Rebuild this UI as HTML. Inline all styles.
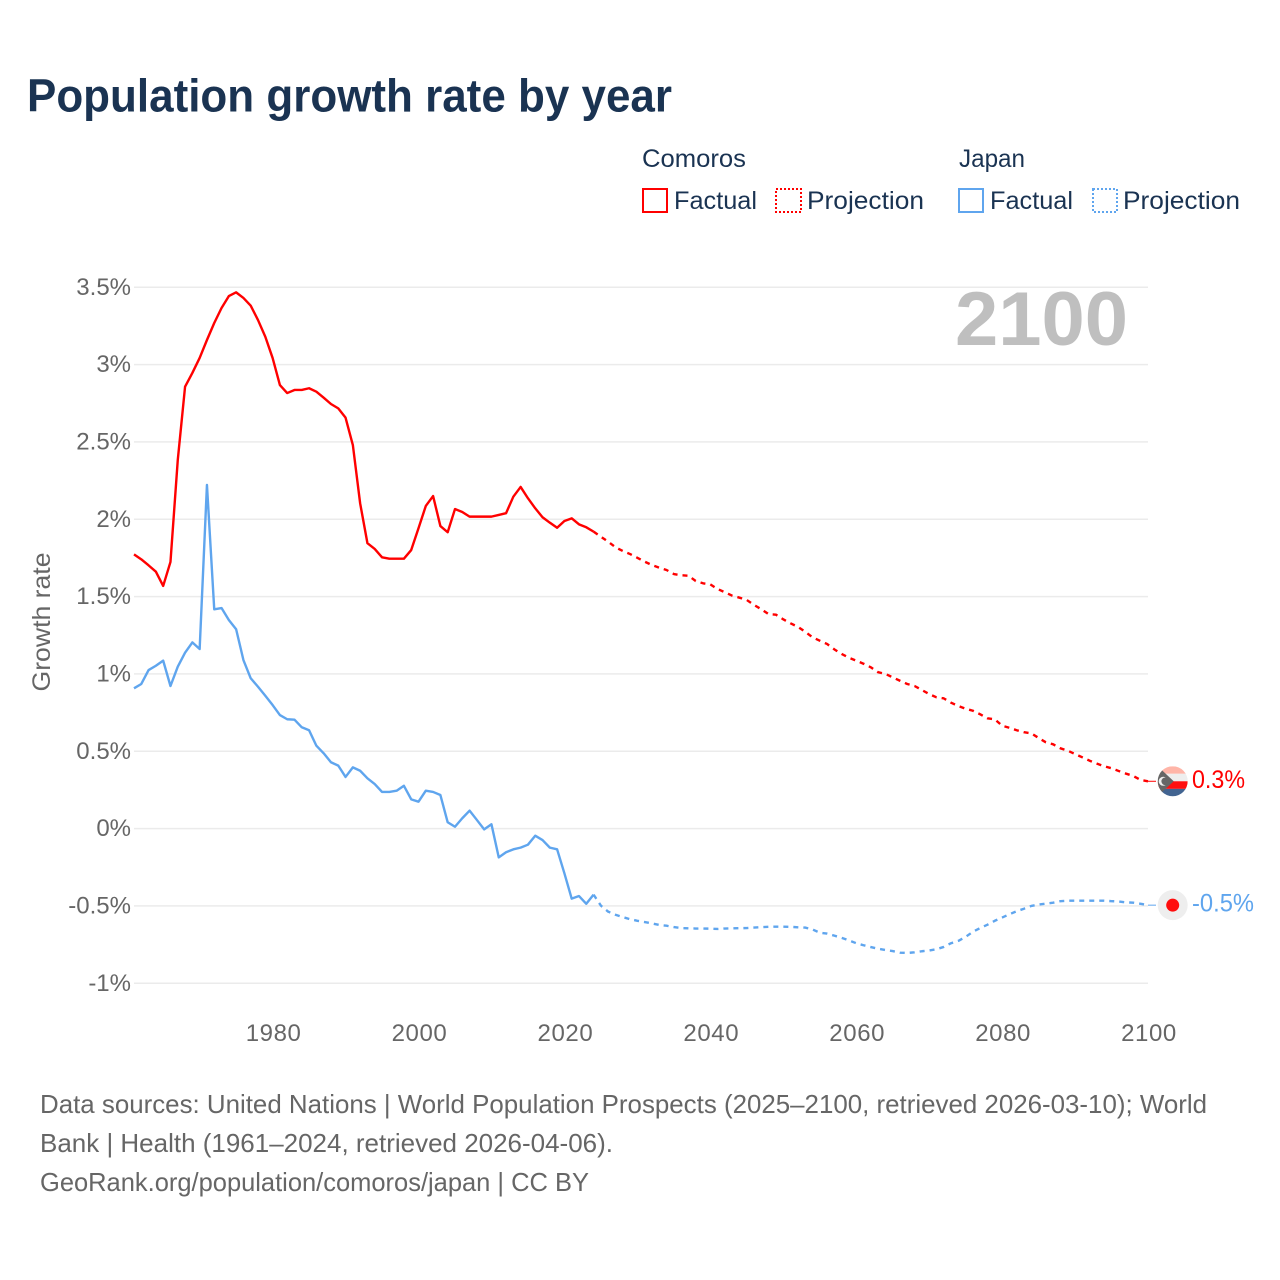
<!DOCTYPE html>
<html lang="en">
<head>
<meta charset="utf-8">
<title>Population growth rate by year</title>
<style>
html,body{margin:0;padding:0;background:#fff;}
svg{display:block;}
text{font-family:"Liberation Sans",sans-serif;}
</style>
</head>
<body>
<svg id="chart" width="1280" height="1280" viewBox="0 0 1280 1280" xmlns="http://www.w3.org/2000/svg">
  <defs>
    <clipPath id="flag-clip"><circle cx="0" cy="0" r="15"/></clipPath>
  </defs>
  <rect x="0" y="0" width="1280" height="1280" fill="#fff"/>
  <text x="27" y="111.5" font-size="46" font-weight="700" fill="#1a3352" textLength="645" lengthAdjust="spacingAndGlyphs">Population growth rate by year</text>

  <g font-size="25" fill="#1a3352">
    <text x="642" y="167" textLength="104" lengthAdjust="spacingAndGlyphs">Comoros</text>
    <g>
      <rect x="643" y="189" width="24" height="23" fill="none" stroke="#ff0000" stroke-width="2"/>
      <text x="674" y="209" textLength="83" lengthAdjust="spacingAndGlyphs">Factual</text>
    </g>
    <g>
      <rect x="776" y="189" width="25" height="23" fill="none" stroke="#ff0000" stroke-width="2" stroke-dasharray="2 2"/>
      <text x="807" y="209" textLength="117" lengthAdjust="spacingAndGlyphs">Projection</text>
    </g>
    <text x="959" y="167" textLength="66" lengthAdjust="spacingAndGlyphs">Japan</text>
    <g>
      <rect x="959" y="189" width="24" height="23" fill="none" stroke="#5fa5ee" stroke-width="2"/>
      <text x="990" y="209" textLength="83" lengthAdjust="spacingAndGlyphs">Factual</text>
    </g>
    <g>
      <rect x="1093" y="189" width="24" height="23" fill="none" stroke="#5fa5ee" stroke-width="2" stroke-dasharray="2 2"/>
      <text x="1123" y="209" textLength="117" lengthAdjust="spacingAndGlyphs">Projection</text>
    </g>
  </g>

  <g id="grid"></g>
  <g id="y-ticks" font-size="24" fill="#666" text-anchor="end"></g>
  <g id="x-ticks" font-size="24" fill="#666" text-anchor="middle"></g>
  <text transform="translate(50,622) rotate(-90)" font-size="25" fill="#666" text-anchor="middle" textLength="139" lengthAdjust="spacingAndGlyphs">Growth rate</text>
  <text x="955" y="345" font-size="76" font-weight="700" fill="#bfbfbf" textLength="173" lengthAdjust="spacingAndGlyphs">2100</text>

  <g id="series" fill="none" stroke-width="2.4" stroke-linejoin="round"></g>
  <g id="end-markers"></g>

  <g font-size="26" fill="#666">
    <text x="40" y="1113" textLength="1167" lengthAdjust="spacingAndGlyphs">Data sources: United Nations | World Population Prospects (2025–2100, retrieved 2026-03-10); World</text>
    <text x="40" y="1152" textLength="573" lengthAdjust="spacingAndGlyphs">Bank | Health (1961–2024, retrieved 2026-04-06).</text>
    <text x="40" y="1191" textLength="549" lengthAdjust="spacingAndGlyphs">GeoRank.org/population/comoros/japan | CC BY</text>
  </g>
</svg>
<script>
const factualStartYear = 1961;
const projectionStartYear = 2025;
const yTickValues = [3.5, 3, 2.5, 2, 1.5, 1, 0.5, 0, -0.5, -1];
const yTickLabels = ["3.5%", "3%", "2.5%", "2%", "1.5%", "1%", "0.5%", "0%", "-0.5%", "-1%"];
const xTickYears = [1980, 2000, 2020, 2040, 2060, 2080, 2100];
const comorosFactual = [
  1.773,1.741,1.702,1.661,1.569,1.724,2.383,2.857,2.946,3.043,
  3.159,3.269,3.366,3.443,3.467,3.431,3.381,3.288,3.180,3.043,
  2.868,2.816,2.836,2.836,2.847,2.825,2.786,2.745,2.717,2.657,
  2.480,2.103,1.845,1.808,1.754,1.745,1.745,1.745,1.801,1.942,
  2.086,2.150,1.956,1.916,2.066,2.047,2.017,2.017,2.017,2.017,
  2.028,2.039,2.146,2.209,2.136,2.071,2.013,1.978,1.945,1.989,
  2.006,1.967,1.948,1.920
];
const comorosProjection = [
  1.887,1.855,1.819,1.795,1.775,1.751,1.726,1.704,1.687,1.672,
  1.646,1.638,1.635,1.601,1.586,1.579,1.549,1.528,1.506,1.493,
  1.478,1.446,1.418,1.386,1.383,1.353,1.327,1.305,1.273,1.237,
  1.215,1.194,1.159,1.129,1.105,1.086,1.066,1.043,1.011,1.000,
  0.978,0.956,0.935,0.922,0.896,0.870,0.849,0.842,0.814,0.793,
  0.775,0.762,0.739,0.713,0.707,0.665,0.652,0.636,0.623,0.616,
  0.586,0.558,0.545,0.519,0.504,0.482,0.461,0.439,0.420,0.403,
  0.390,0.372,0.355,0.340,0.314,0.306
];
const japanFactual = [
  0.907,0.935,1.025,1.053,1.086,0.922,1.047,1.137,1.204,1.161,
  2.222,1.418,1.426,1.349,1.289,1.090,0.972,0.917,0.859,0.799,
  0.734,0.707,0.704,0.655,0.636,0.536,0.487,0.429,0.407,0.334,
  0.396,0.374,0.325,0.288,0.237,0.237,0.245,0.277,0.189,0.174,
  0.245,0.237,0.217,0.041,0.012,0.067,0.116,0.056,-0.005,0.028,
  -0.186,-0.153,-0.134,-0.123,-0.104,-0.046,-0.074,-0.123,-0.134,-0.289,
  -0.453,-0.436,-0.486,-0.427
];
const japanProjection = [
  -0.498,-0.537,-0.557,-0.572,-0.586,-0.596,-0.604,-0.613,-0.623,-0.628,
  -0.637,-0.643,-0.645,-0.646,-0.646,-0.647,-0.649,-0.646,-0.645,-0.644,
  -0.643,-0.640,-0.637,-0.635,-0.634,-0.634,-0.635,-0.638,-0.640,-0.652,
  -0.673,-0.679,-0.692,-0.706,-0.723,-0.741,-0.754,-0.766,-0.777,-0.785,
  -0.792,-0.802,-0.804,-0.800,-0.793,-0.788,-0.780,-0.765,-0.741,-0.726,
  -0.700,-0.667,-0.643,-0.621,-0.596,-0.575,-0.554,-0.534,-0.518,-0.500,
  -0.491,-0.485,-0.479,-0.469,-0.466,-0.466,-0.466,-0.466,-0.466,-0.466,
  -0.469,-0.471,-0.477,-0.479,-0.486,-0.495
];
const comorosEndLabel = "0.3%";
const japanEndLabel = "-0.5%";

const NS = 'http://www.w3.org/2000/svg';
const COMOROS_COLOR = '#ff0000';
const JAPAN_COLOR = '#5fa5ee';
function xScale(year) { return 134 + (year - 1961) * (1148 - 134) / (2100 - 1961); }
function yScale(v) { return 828.6 - v * 154.67; }
function make(tag, attrs, parent) {
  const el = document.createElementNS(NS, tag);
  for (const k in attrs) el.setAttribute(k, attrs[k]);
  parent.appendChild(el);
  return el;
}
function linePath(startYear, values, prefix) {
  const pts = prefix ? prefix.slice() : [];
  values.forEach(function (v, i) {
    pts.push(xScale(startYear + i).toFixed(2) + ',' + yScale(v).toFixed(2));
  });
  return 'M' + pts.join('L');
}

const grid = document.getElementById('grid');
const yTicks = document.getElementById('y-ticks');
yTickValues.forEach(function (v, i) {
  const gl = make('line', { x1: 134, x2: 1148, y1: yScale(v), y2: yScale(v), stroke: '#ebebeb', 'stroke-width': 1.5 }, grid);
  
  
  const t = make('text', { x: 131, y: yScale(v) + 7.5 }, yTicks);
  
  
  t.textContent = yTickLabels[i];
});

const xTicks = document.getElementById('x-ticks');
xTickYears.forEach(function (year) {
  const t = make('text', { x: xScale(year) + 1, y: 1041, 'letter-spacing': '0.6' }, xTicks);
  
  
  t.textContent = String(year);
});

const series = document.getElementById('series');
function drawSeries(name, color, factual, projection) {
  const last = factual[factual.length - 1];
  const lastYear = factualStartYear + factual.length - 1;
  const solid = make('path', { d: linePath(factualStartYear, factual), stroke: color }, series);
  
  
  const anchor = [xScale(lastYear).toFixed(2) + ',' + yScale(last).toFixed(2)];
  const dashed = make('path', { d: linePath(projectionStartYear, projection, anchor), stroke: color, 'stroke-dasharray': '5 5' }, series);
  
  
  const endV = projection[projection.length - 1];
  const conn = make('line', { x1: 1148, x2: 1156, y1: yScale(endV), y2: yScale(endV), stroke: color, 'stroke-width': 1 }, series);
  
  
}
drawSeries('comoros', COMOROS_COLOR, comorosFactual, comorosProjection);
drawSeries('japan', JAPAN_COLOR, japanFactual, japanProjection);

const markers = document.getElementById('end-markers');

const cy = yScale(comorosProjection[comorosProjection.length - 1]);
const flagC = make('g', { transform: 'translate(1172.7,' + cy + ')', 'clip-path': 'url(#flag-clip)' }, markers);


[['#ffb5a8', -15, 7.6], ['#eeeeee', -7.6, 7.6], ['#ff1010', 0, 7.6], ['#426491', 7.6, 7.6]].forEach(function (s) {
  make('rect', { x: -15, y: s[1], width: 30, height: s[2], fill: s[0] }, flagC);
});
make('path', { d: 'M-15,-15L1,0L-15,15Z', fill: '#666666' }, flagC);
make('circle', { cx: -9.5, cy: 0, r: 4.5, fill: '#eeeeee' }, flagC);
make('circle', { cx: -7.5, cy: 0, r: 3.8, fill: '#666666' }, flagC);

const jy = yScale(japanProjection[japanProjection.length - 1]);
const flagJ = make('g', { transform: 'translate(1172.7,' + jy + ')' }, markers);


make('circle', { cx: 0, cy: 0, r: 15, fill: '#eeeeee' }, flagJ);
make('circle', { cx: 0, cy: 0, r: 6.5, fill: '#ff0d0d' }, flagJ);

const lc = make('text', { x: 1192, y: cy + 6.5, 'font-size': 25, fill: COMOROS_COLOR, textLength: 53, lengthAdjust: 'spacingAndGlyphs' }, markers);


lc.textContent = comorosEndLabel;
const lj = make('text', { x: 1192, y: jy + 6.5, 'font-size': 25, fill: JAPAN_COLOR, textLength: 62, lengthAdjust: 'spacingAndGlyphs' }, markers);


lj.textContent = japanEndLabel;
</script>
</body>
</html>
